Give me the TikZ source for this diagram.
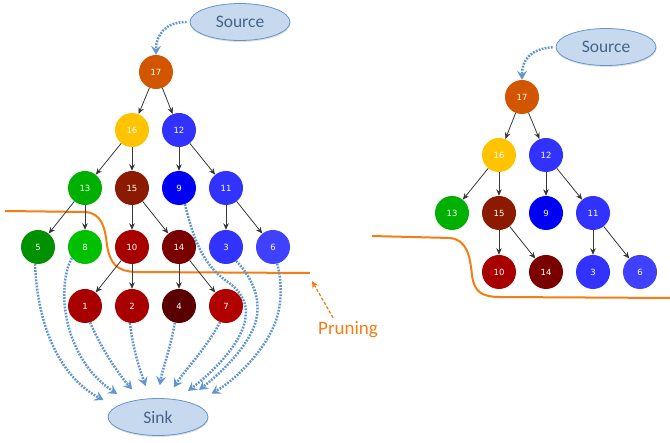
\documentclass[tikz,border=0pt]{standalone}
\usepackage{fontspec}
\newfontfamily\labfont{Carlito}
\newfontfamily\numfont{DejaVu Sans}
\usetikzlibrary{arrows.meta,shadows,calc,shapes.geometric}
\definecolor{c17}{RGB}{210,85,0}
\definecolor{c16}{RGB}{255,195,0}
\definecolor{c12}{RGB}{50,50,255}
\definecolor{c13}{RGB}{0,176,0}
\definecolor{c15}{RGB}{139,26,0}
\definecolor{c9}{RGB}{0,0,245}
\definecolor{c11}{RGB}{50,50,255}
\definecolor{c5}{RGB}{0,145,0}
\definecolor{c8}{RGB}{0,192,0}
\definecolor{c10}{RGB}{168,0,0}
\definecolor{c14}{RGB}{122,0,0}
\definecolor{c3}{RGB}{50,50,255}
\definecolor{c6}{RGB}{64,64,255}
\definecolor{c1}{RGB}{168,0,0}
\definecolor{c2}{RGB}{168,0,0}
\definecolor{c4}{RGB}{90,0,0}
\definecolor{c7}{RGB}{176,0,0}
\definecolor{edgegray}{RGB}{55,55,55}
\definecolor{flowblue}{RGB}{95,150,208}
\definecolor{termfill}{RGB}{198,217,238}
\definecolor{termborder}{RGB}{100,150,205}
\definecolor{termtext}{RGB}{70,100,140}
\definecolor{pruneorange}{RGB}{245,125,20}
\begin{document}
\begin{tikzpicture}[x=1pt,y=-1pt,
  vert/.style={circle, minimum size=34pt, inner sep=0pt, text=white, font=\numfont\fontsize{8.5}{9}\selectfont},
  edge/.style={draw=edgegray, line width=0.8pt, -{Stealth[length=6.5pt,width=5.5pt]}},
  flow/.style={draw=flowblue, line width=2.5pt, dash pattern=on 1.8pt off 1.3pt, -{Stealth[length=9pt,width=10pt,inset=3.5pt]}},
  term/.style={ellipse, draw=termborder, fill=termfill, line width=0.8pt, minimum width=100pt, minimum height=37pt, inner sep=0pt, text=termtext, font=\labfont\fontsize{17.5}{19}\selectfont, drop shadow={opacity=0.25, shadow xshift=0.5pt, shadow yshift=-1.5pt}},
  prune/.style={draw=pruneorange, line width=2pt},
]
\useasboundingbox (0,0) rectangle (670,443);
% pruning boundaries
\draw[prune] (5,211) -- (85,212) .. controls (102,213) and (105,228) .. (107,245) .. controls (110,265) and (118,271) .. (135,272) -- (310,273);
\draw[prune] (372,236) -- (450,238) .. controls (468,240) and (470,258) .. (472,275) .. controls (474,292) and (482,297) .. (500,297) -- (670,298);

% left tree
\node[term] (src) at (240,22) {Source};
\node[term] (sink) at (158,417) {Sink};
\node[vert, fill=c17] (n17) at (156,72) {17};
\node[vert, fill=c16] (n16) at (132,130) {16};
\node[vert, fill=c12] (n12) at (179,130) {12};
\node[vert, fill=c13] (n13) at (85,188) {13};
\node[vert, fill=c15] (n15) at (132,188) {15};
\node[vert, fill=c9] (n9) at (179,188) {9};
\node[vert, fill=c11] (n11) at (226,188) {11};
\node[vert, fill=c5] (n5) at (38,247) {5};
\node[vert, fill=c8] (n8) at (85,247) {8};
\node[vert, fill=c10] (n10) at (132,247) {10};
\node[vert, fill=c14] (n14) at (179,247) {14};
\node[vert, fill=c3] (n3) at (226,247) {3};
\node[vert, fill=c6] (n6) at (273,247) {6};
\node[vert, fill=c1] (n1) at (85,306) {1};
\node[vert, fill=c2] (n2) at (132,306) {2};
\node[vert, fill=c4] (n4) at (179,306) {4};
\node[vert, fill=c7] (n7) at (226,306) {7};

\foreach \a/\b in {n17/n16,n17/n12,n16/n13,n16/n15,n12/n9,n12/n11,n13/n5,n13/n8,n15/n10,n15/n14,n11/n3,n11/n6,n10/n1,n10/n2,n14/n4,n14/n7}
  \draw[edge] (\a) -- (\b);

\draw[flow, shorten <=3pt] (src.west) .. controls (165,22) and (156,35) .. (n17.north);
\draw[flow, shorten >=14pt] (n5.-100) .. controls (38,335) and (65,380) .. (sink.166);
\draw[flow, shorten >=14pt] (n8.-140) .. controls (55,290) and (65,360) .. (sink.152);
\draw[flow, shorten >=13pt] (n1.-73) .. controls (100,345) and (115,370) .. (sink.134);
\draw[flow, shorten >=13pt] (n2.-97) .. controls (133,350) and (140,370) .. (sink.113);
\draw[flow, shorten >=13pt] (n4.-104) .. controls (170,350) and (162,370) .. (sink.90);
\draw[flow, shorten >=13pt] (n7.-110) .. controls (205,350) and (185,370) .. (sink.65);
\draw[flow, shorten >=14pt] (n9.-70) .. controls (195,245) and (205,265) .. (225,280) .. controls (245,293) and (252,310) .. (240,335) .. controls (228,358) and (205,378) .. (sink.43);
\draw[flow, shorten >=18pt] (n3.-54) .. controls (250,275) and (260,295) .. (257,315) .. controls (254,340) and (225,370) .. (sink.31);
\draw[flow, shorten >=20pt] (n6.-76) .. controls (283,285) and (282,310) .. (272,330) .. controls (260,355) and (235,380) .. (sink.20);

% pruning label
\node[font=\labfont\fontsize{19}{21}\selectfont, text=pruneorange, anchor=base west, inner sep=0pt] (prun) at (318,335) {Pruning};
\coordinate (ptip) at (312,281);
\draw[pruneorange, line width=1.3pt, dash pattern=on 3pt off 2pt, -{Stealth[length=7pt,width=6.5pt]}] ($(prun.north west)+(15,-4)$) -- (ptip);

% right tree
\node[term] (src2) at (606,47) {Source};
\node[vert, fill=c17] (r17) at (522,97) {17};
\node[vert, fill=c16] (r16) at (499,155) {16};
\node[vert, fill=c12] (r12) at (546,155) {12};
\node[vert, fill=c13] (r13) at (452,213) {13};
\node[vert, fill=c15] (r15) at (499,213) {15};
\node[vert, fill=c9] (r9) at (546,213) {9};
\node[vert, fill=c11] (r11) at (593,213) {11};
\node[vert, fill=c10] (r10) at (499,272) {10};
\node[vert, fill=c14] (r14) at (546,272) {14};
\node[vert, fill=c3] (r3) at (593,272) {3};
\node[vert, fill=c6] (r6) at (640,272) {6};
\foreach \a/\b in {r17/r16,r17/r12,r16/r13,r16/r15,r12/r9,r12/r11,r15/r10,r15/r14,r11/r3,r11/r6}
  \draw[edge] (\a) -- (\b);
\draw[flow, shorten <=3pt] (src2.west) .. controls (530,49) and (522,60) .. (r17.north);
\end{tikzpicture}
\end{document}
